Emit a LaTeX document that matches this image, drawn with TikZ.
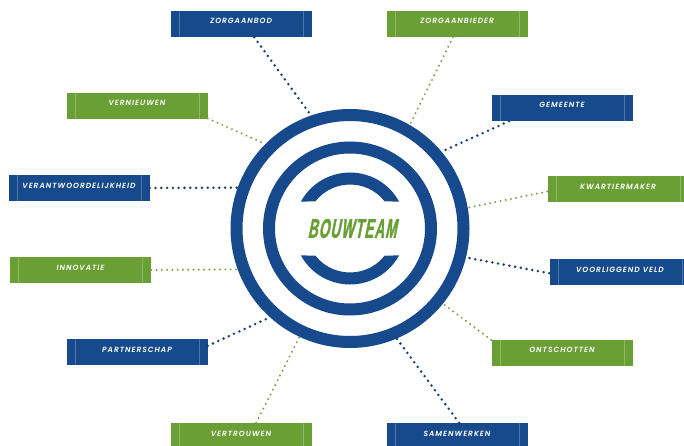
\documentclass[tikz,border=0pt]{standalone}
\usepackage{fontspec}
\setmainfont{Poppins}[BoldItalicFont={Poppins SemiBold Italic}]
\newfontfamily\titlefont[FakeStretch=0.5,FakeSlant=0.2,FakeBold=1.2,LetterSpace=4]{Liberation Sans Bold}
\definecolor{ringblue}{HTML}{174A8C}
\definecolor{leafgreen}{HTML}{6A9F35}
\definecolor{dotblue}{HTML}{1F3F70}
\definecolor{dotgreen}{HTML}{7F9A50}
\newcommand{\spaced}[1]{\addfontfeature{LetterSpace=13}#1}

\begin{document}
\begin{tikzpicture}[x=1pt,y=1pt]
  \tikzset{
    box/.style={minimum width=141pt,minimum height=26pt,inner sep=0pt,text=white,
      text height=6pt,text depth=6pt,font=\fontsize{7.5}{9}\selectfont\bfseries\itshape,
      path picture={
        \draw[white,opacity=.25,line width=.5pt]
          ([xshift=8.5pt]path picture bounding box.south west) -- ([xshift=8.5pt]path picture bounding box.north west)
          ([xshift=-8.5pt]path picture bounding box.south east) -- ([xshift=-8.5pt]path picture bounding box.north east);
      }},
    bluebox/.style={box,fill=ringblue},
    greenbox/.style={box,fill=leafgreen},
    bluedots/.style={draw=dotblue,line width=2.8pt,line cap=round,dash pattern=on 0pt off 5.8pt},
    greendots/.style={draw=dotgreen,line width=2.2pt,line cap=round,dash pattern=on 0pt off 5.3pt},
    ring/.style={circle,draw=ringblue,line width=12pt,inner sep=0pt}
  }
  \useasboundingbox (0,0) rectangle (684,445);
  \clip (0,0) rectangle (684,445);

  \coordinate (hub) at (350,216.5);
  \node[ring,minimum size=227pt] (outer) at (hub) {};
  \node[ring,minimum size=162pt] (middle) at (hub) {};
  \fill[ringblue] ([shift={(28.8:56)}]hub) arc (28.8:151.2:56) -- ([shift={(142.1:44)}]hub) arc (142.1:37.9:44) -- cycle;
  \fill[ringblue] ([shift={(-28.8:56)}]hub) arc (-28.8:-151.2:56) -- ([shift={(-142.1:44)}]hub) arc (-142.1:-37.9:44) -- cycle;
  \node[text=leafgreen,font=\fontsize{27}{30}\titlefont] (title) at (352,216.5) {BOUWTEAM};

  \node[bluebox] (zorgaanbod) at (241,421) {\spaced{ZORGAANBOD}};
  \node[greenbox] (zorgaanbieder) at (457,421) {\spaced{ZORGAANBIEDER}};
  \node[bluebox] (gemeente) at (562,337) {\spaced{GEMEENTE}};
  \node[greenbox] (kwartiermaker) at (618,256) {\spaced{KWARTIERMAKER}};
  \node[bluebox] (voorliggend) at (620,173) {\spaced{VOORLIGGEND VELD}};
  \node[greenbox] (ontschotten) at (562,92.5) {\spaced{ONTSCHOTTEN}};
  \node[bluebox] (samenwerken) at (457,9) {\spaced{SAMENWERKEN}};
  \node[greenbox] (vertrouwen) at (241,9) {\spaced{VERTROUWEN}};
  \node[bluebox] (partnerschap) at (137,93) {\spaced{PARTNERSCHAP}};
  \node[greenbox] (innovatie) at (80.5,175) {\spaced{INNOVATIE}};
  \node[bluebox] (verantwoordelijkheid) at (79,257) {\spaced{VERANTWOORDELIJKHEID}};
  \node[greenbox] (vernieuwen) at (137,339) {\spaced{VERNIEUWEN}};

  \path[bluedots] (zorgaanbod.-45) -- (outer.109);
  \path[greendots] (zorgaanbieder.-107) -- (outer.60.5);
  \path[bluedots] (gemeente.194) -- (outer.40);
  \path[greendots] (kwartiermaker.182.5) -- (outer.10);
  \path[bluedots] (voorliggend.181) -- (outer.-14);
  \path[greendots] (ontschotten.170) -- (outer.-39);
  \path[bluedots] (samenwerken.81) -- (outer.-67);
  \path[greendots] (vertrouwen.41) -- (outer.245);
  \path[bluedots] (partnerschap.5) -- (outer.228.4);
  \path[greendots] (innovatie.east) -- (outer.200);
  \path[bluedots] (verantwoordelijkheid.east) -- (outer.160.6);
  \path[greendots] (vernieuwen.-10) -- (outer.135);
\end{tikzpicture}
\end{document}
